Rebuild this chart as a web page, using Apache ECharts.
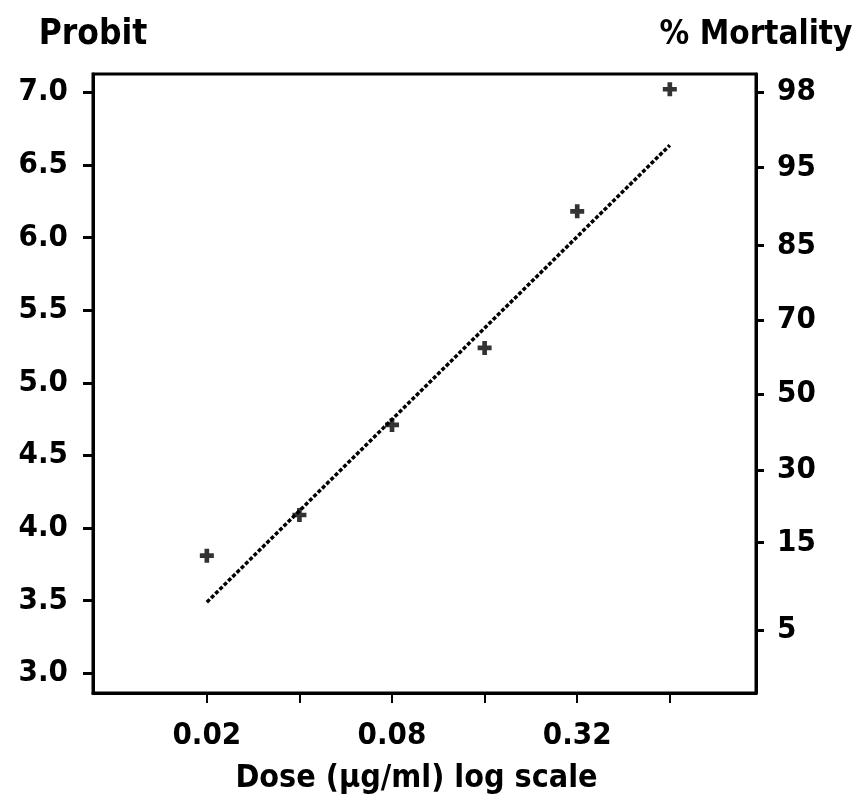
<!DOCTYPE html>
<html>
<head>
<meta charset="utf-8">
<script src="https://cdn.jsdelivr.net/npm/echarts@6/dist/echarts.min.js"></script>
<style>
html,body{margin:0;padding:0;background:#fff;}
#chart{width:857px;height:795px;}
</style>
</head>
<body>
<div id="chart"></div>
<script>
// Observed data (dose in μg/ml, probit)
var doses = [0.02, 0.04, 0.08, 0.16, 0.32, 0.64];
var probits = [3.81, 4.09, 4.71, 5.24, 6.18, 7.02];
// Fitted regression line end points
var fitDoses = [0.02, 0.64];
var fitProbits = [3.49, 6.635];
// Axis tick labels
var probitTicks = [3.0, 3.5, 4.0, 4.5, 5.0, 5.5, 6.0, 6.5, 7.0];
var doseTickValues = [0.02, 0.04, 0.08, 0.16, 0.32, 0.64];
var doseLabelValues = [0.02, 0.08, 0.32];
var doseLabels = ['0.02', '0.08', '0.32'];
var mortalityLabels = ['98', '95', '85', '70', '50', '30', '15', '5'];
var mortalityProbits = [7.0, 6.48, 5.945, 5.43, 4.92, 4.40, 3.90, 3.30];

var FONT = '"Liberation Sans Narrow", "DejaVu Sans Condensed", "Liberation Sans", sans-serif';
var labelStyle = {fontFamily: FONT, fontWeight: 'bold', fontSize: 31, color: '#000'};

var chart = echarts.init(document.getElementById('chart'), null, {renderer: 'canvas'});
var plus = 'path://M4,0 L8,0 L8,4 L12,4 L12,8 L8,8 L8,12 L4,12 L4,8 L0,8 L0,4 L4,4 Z';

chart.setOption({
  animation: false,
  backgroundColor: '#fff',
  grid: {left: 93, right: 101, top: 74, bottom: 102, show: true, borderColor: '#000', borderWidth: 3,
    containLabel: false, outerBoundsMode: 'none'},
  xAxis: {
    type: 'log', logBase: 2, min: 0.00853, max: 1.22,
    name: 'Dose (μg/ml) log scale', nameLocation: 'middle', nameGap: 70,
    nameTextStyle: Object.assign({}, labelStyle, {fontSize: 32, padding: [0, 16, 0, 0]}),
    axisLine: {show: true, lineStyle: {color: '#000', width: 3}},
    axisTick: {show: true, customValues: doseTickValues, length: 10, lineStyle: {color: '#000', width: 2}},
    axisLabel: {show: true, customValues: doseLabelValues, margin: 27,
      formatter: function (v) { var i = doseLabelValues.indexOf(v); return i >= 0 ? doseLabels[i] : ''; },
      fontFamily: FONT, fontWeight: 'bold', fontSize: 31, color: '#000'},
    splitLine: {show: false}, minorTick: {show: false}
  },
  yAxis: [{
    type: 'value', position: 'left', min: 2.865, max: 7.125,
    name: 'Probit', nameLocation: 'end', nameGap: 22,
    nameTextStyle: Object.assign({}, labelStyle, {fontSize: 35, align: 'center'}),
    axisLine: {show: true, lineStyle: {color: '#000', width: 3}},
    axisTick: {show: true, customValues: probitTicks, length: 10, lineStyle: {color: '#000', width: 3}},
    axisLabel: {show: true, customValues: probitTicks, margin: 25,
      formatter: function (v) { return v.toFixed(1); },
      fontFamily: FONT, fontWeight: 'bold', fontSize: 31, color: '#000'},
    splitLine: {show: false}
  }, {
    type: 'value', position: 'right', min: 2.865, max: 7.125,
    name: '% Mortality', nameLocation: 'end', nameGap: 22,
    nameTextStyle: Object.assign({}, labelStyle, {fontSize: 33, align: 'center'}),
    axisLine: {show: true, lineStyle: {color: '#000', width: 3}},
    axisTick: {show: true, customValues: mortalityProbits, length: 8, lineStyle: {color: '#000', width: 3}},
    axisLabel: {show: true, customValues: mortalityProbits, margin: 21,
      formatter: function (v) { var i = mortalityProbits.indexOf(v); return i >= 0 ? mortalityLabels[i] : ''; },
      fontFamily: FONT, fontWeight: 'bold', fontSize: 31, color: '#000'},
    splitLine: {show: false}
  }],
  series: [{
    type: 'line', name: 'fit', yAxisIndex: 0,
    data: fitDoses.map(function (d, i) { return [d, fitProbits[i]]; }),
    showSymbol: false, symbol: 'none',
    lineStyle: {color: '#000', width: 3.5, type: [4, 2]},
    z: 2
  }, {
    type: 'scatter', name: 'observed', yAxisIndex: 0,
    data: doses.map(function (d, i) { return [d, probits[i]]; }),
    symbol: plus, symbolSize: 14,
    itemStyle: {color: '#000'},
    z: 3
  }]
});
</script>
</body>
</html>
